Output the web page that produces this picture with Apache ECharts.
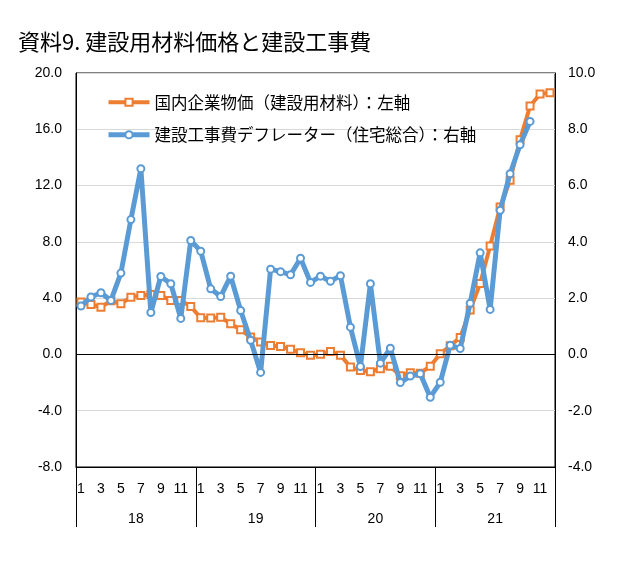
<!DOCTYPE html>
<html>
<head>
<meta charset="utf-8">
<script src="https://cdn.jsdelivr.net/npm/echarts@6/dist/echarts.min.js"></script>
<style>
html,body{margin:0;padding:0;background:#fff;}
#chart{width:632px;height:564px;}
</style>
</head>
<body>
<div id="chart"></div>
<script>
var years = ['18', '19', '20', '21'];
var monthNames = ['1','2','3','4','5','6','7','8','9','10','11','12'];
var months = [];
years.forEach(function () { monthNames.forEach(function (m) { months.push(m); }); });

var leftTicks = [-8, 20, 4];
var rightTicks = [-4, 10, 2];

var nameMaterials = '国内企業物価（建設用材料）：左軸';
var nameDeflator = '建設工事費デフレーター（住宅総合）：右軸';

var materials = [
  3.72, 3.55, 3.36, 3.81, 3.60, 4.07, 4.19, 4.26, 4.19, 3.84, 3.84, 3.41,
  2.60, 2.58, 2.65, 2.18, 1.75, 1.23, 0.88, 0.64, 0.57, 0.36, 0.12, -0.05,
  0.02, 0.20, -0.05, -0.90, -1.14, -1.23, -1.02, -0.84, -1.52, -1.30, -1.33, -0.84,
  0.05, 0.62, 1.21, 3.15, 5.04, 7.70, 10.47, 12.37, 15.26, 17.65, 18.50, 18.60
];
var deflator = [
  1.72, 2.04, 2.19, 1.92, 2.89, 4.79, 6.60, 1.49, 2.77, 2.51, 1.28, 4.05,
  3.67, 2.33, 2.06, 2.78, 1.56, 0.50, -0.64, 3.03, 2.94, 2.83, 3.42, 2.56,
  2.78, 2.60, 2.80, 0.97, -0.43, 2.51, -0.31, 0.22, -1.00, -0.77, -0.69, -1.52,
  -0.99, 0.33, 0.21, 1.82, 3.61, 1.60, 5.12, 6.42, 7.45, 8.28, null, null
];

var chart = echarts.init(document.getElementById('chart'));
var font = '"Noto Sans CJK JP", "Noto Sans", sans-serif';
var numFont = '"Liberation Sans", Arial, sans-serif';
chart.setOption({
  animation: false,
  backgroundColor: '#fff',
  title: {
    text: '資料9. 建設用材料価格と建設工事費',
    left: 13, top: 26,
    textStyle: { fontFamily: font, fontSize: 22, fontWeight: 'normal', color: '#000' }
  },
  legend: {
    left: 106, top: 94, orient: 'vertical', padding: 0,
    itemWidth: 41, itemHeight: 9, itemGap: 16,
    lineStyle: { width: 'inherit' },
    textStyle: { fontFamily: font, fontSize: 16.5, color: '#000' },
    data: [nameMaterials, nameDeflator]
  },
  grid: {
    left: 76, right: 77, top: 73, bottom: 97,
    show: true, borderColor: '#000', borderWidth: 1, backgroundColor: 'transparent'
  },
  xAxis: [
    {
      type: 'category', data: months, boundaryGap: true,
      axisLine: { show: true, onZero: false, lineStyle: { color: '#000', width: 1 } },
      axisTick: { show: false },
      axisLabel: {
        interval: 0,
        formatter: function (v, i) { return (i % 2 === 0) ? v : ''; },
        margin: 15, fontSize: 14, fontFamily: numFont, color: '#000'
      },
      splitLine: { show: false }
    },
    {
      type: 'category', data: years, position: 'bottom', boundaryGap: true,
      axisLine: { show: false, onZero: false },
      axisTick: { show: true, interval: 0, length: 60, lineStyle: { color: '#000', width: 1 } },
      axisLabel: { margin: 45, fontSize: 14, fontFamily: numFont, color: '#000' },
      splitLine: { show: false }
    }
  ],
  yAxis: [
    {
      type: 'value', min: leftTicks[0], max: leftTicks[1], interval: leftTicks[2],
      axisLine: { show: true, lineStyle: { color: '#000' } },
      axisTick: { show: false },
      axisLabel: { formatter: function (v) { return v.toFixed(1); }, margin: 14, fontSize: 14, fontFamily: numFont, color: '#000' },
      splitLine: { show: true, lineStyle: { color: '#d9d9d9', width: 1 } }
    },
    {
      type: 'value', min: rightTicks[0], max: rightTicks[1], interval: rightTicks[2], position: 'right',
      axisLine: { show: true, lineStyle: { color: '#000' } },
      axisTick: { show: false },
      axisLabel: { formatter: function (v) { return v.toFixed(1); }, margin: 13, fontSize: 14, fontFamily: numFont, color: '#000' },
      splitLine: { show: false }
    }
  ],
  series: [
    {
      name: nameMaterials, type: 'line', data: materials, xAxisIndex: 0, yAxisIndex: 0,
      symbol: 'emptyRect', symbolSize: 7, showAllSymbol: true,
      lineStyle: { color: '#ED7D31', width: 4 },
      itemStyle: { color: '#ED7D31', borderWidth: 1.5 },
      markLine: {
        silent: true, symbol: 'none', label: { show: false },
        lineStyle: { color: '#000', width: 1, type: 'solid' },
        data: [{ yAxis: 0 }]
      },
      z: 2
    },
    {
      name: nameDeflator, type: 'line', data: deflator, xAxisIndex: 0, yAxisIndex: 1,
      symbol: 'emptyCircle', symbolSize: 7, showAllSymbol: true,
      lineStyle: { color: '#5B9BD5', width: 5 },
      itemStyle: { color: '#5B9BD5', borderWidth: 1.5 },
      z: 3
    }
  ]
});
</script>
</body>
</html>
